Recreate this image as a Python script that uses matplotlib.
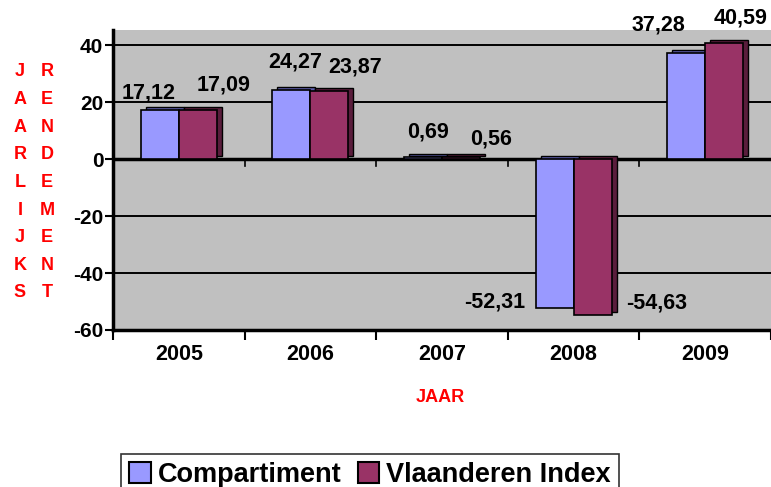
import matplotlib
matplotlib.use("Agg")
import matplotlib.pyplot as plt
import matplotlib.transforms as mtransforms
from matplotlib.patches import Patch
import numpy as np

years = ["2005", "2006", "2007", "2008", "2009"]
compartiment = [17.12, 24.27, 0.69, -52.31, 37.28]
vlaanderen = [17.09, 23.87, 0.56, -54.63, 40.59]
comp_labels = ["17,12", "24,27", "0,69", "-52,31", "37,28"]
vla_labels = ["17,09", "23,87", "0,56", "-54,63", "40,59"]
yticks = [-60, -40, -20, 0, 20, 40]
ytitle_left = "JAARLIJKS"
ytitle_right = "RENDEMENT"
xtitle = "JAAR"
series_names = ["Compartiment", "Vlaanderen Index"]

plt.rcParams['font.family'] = ['Liberation Sans', 'DejaVu Sans']
plt.rcParams['font.weight'] = 'bold'

fig = plt.figure(figsize=(7.71, 4.87), dpi=100)
ax = fig.add_axes([113/771, 157/487, 1 - 113/771, 300/487])
ax.set_facecolor('#C0C0C0')
ax.set_xlim(-0.5, 4.5)
ax.set_ylim(-60, 45.3)

x = np.arange(len(years))
w = 0.289
c_face, c_dark = '#9999FF', '#5C5CA8'
v_face, v_dark = '#993366', '#5A1D3C'

depth = mtransforms.ScaledTranslation(5/100, 3/100, fig.dpi_scale_trans)
back_tr = ax.transData + depth

for yv in [-40, -20, 20, 40]:
    ax.axhline(yv, color='black', lw=1.4, zorder=1)

for xs, vals, face, dark in [(x - w/2, compartiment, c_face, c_dark),
                              (x + w/2, vlaanderen, v_face, v_dark)]:
    ax.bar(xs, vals, width=w, color=dark, edgecolor='black', lw=1.0,
           transform=back_tr, zorder=3)
    ax.bar(xs, vals, width=w, color=face, edgecolor='black', lw=1.2, zorder=4)

ax.axhline(0, color='black', lw=2.5, zorder=2)
for b in np.arange(0.5, 4.5, 1.0):
    ax.plot([b, b], [0, -2.3], color='black', lw=1.2, zorder=2)

# label offsets (pixels) from the bar's end
c_off = [(-11, 17), (4, 28), (5, 25), (-60, 6), (-28, 28)]
v_off = [(26, 25), (26, 24), (30, 18), (64, 12), (16, 25)]
lab_fs = 15.5
for i in range(len(years)):
    ax.annotate(comp_labels[i], (x[i] - w/2, compartiment[i]), xytext=c_off[i],
                textcoords='offset pixels', ha='center', va='center',
                fontsize=lab_fs, fontweight='bold', zorder=6, annotation_clip=False)
    ax.annotate(vla_labels[i], (x[i] + w/2, vlaanderen[i]), xytext=v_off[i],
                textcoords='offset pixels', ha='center', va='center',
                fontsize=lab_fs, fontweight='bold', zorder=6, annotation_clip=False)

ax.set_yticks(yticks)
ax.set_yticklabels([str(t) for t in yticks], fontsize=15, fontweight='bold')
ax.tick_params(axis='y', length=6, width=1.5, pad=1)

ax.set_xticks(np.arange(-0.5, 5.0, 1.0))
ax.set_xticklabels([])
ax.set_xticks(x, minor=True)
ax.set_xticklabels(years, minor=True, fontsize=15.5, fontweight='bold')
ax.tick_params(axis='x', which='major', length=7, width=1.5, direction='out')
ax.tick_params(axis='x', which='minor', length=0, pad=10)

for s in ['top', 'right']:
    ax.spines[s].set_visible(False)
ax.spines['left'].set_linewidth(2.5)
ax.spines['bottom'].set_linewidth(2.5)
ax.spines['left'].set_zorder(5)
ax.spines['bottom'].set_zorder(5)

row_h = 27.6
for col_x, word in [(20, ytitle_left), (47, ytitle_right)]:
    for k, ch in enumerate(word):
        fig.text(col_x/771, 1 - (72 + k*row_h)/487, ch, color='red', fontsize=13,
                 fontweight='bold', ha='center', va='center')
fig.text(440/771, 1 - 397/487, xtitle, color='red', fontsize=13,
         fontweight='bold', ha='center', va='center')

handles = [Patch(facecolor=c_face, edgecolor='black', lw=1.5),
           Patch(facecolor=v_face, edgecolor='black', lw=1.5)]
leg = fig.legend(handles, series_names,
                 loc='upper center', bbox_to_anchor=(370/771, 1 - 440/487),
                 ncol=2, frameon=True, fancybox=False,
                 prop={'weight': 'bold', 'size': 19.5},
                 handlelength=0.8, handleheight=0.8, handletextpad=0.25,
                 columnspacing=0.6, borderpad=0.3)
leg.get_frame().set_edgecolor('black')
leg.get_frame().set_linewidth(1.2)

fig.savefig("out.png", dpi=100)
